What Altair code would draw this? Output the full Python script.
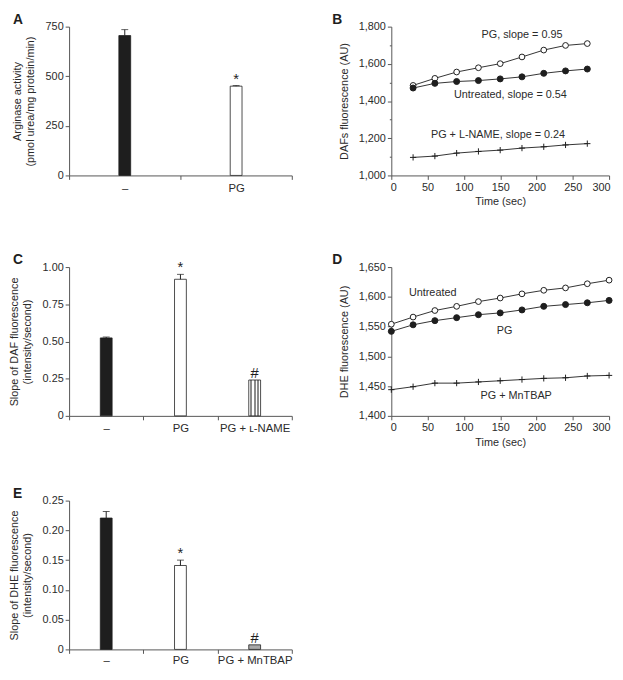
import altair as alt
import pandas as pd

FONT = "Liberation Sans"
TEXT = "#2b2b2b"
AXIS = "#555555"
INK = "#1e1e1e"

# ---------------- data ----------------
# Panel A
a_groups = ["–", "PG"]
a_values = [705, 450]
a_errors = [30, 3]
a_marks = ["", "*"]
a_fills = ["black", "white"]

# Panel B
b_time = [30, 60, 90, 120, 150, 180, 210, 240, 270]
b_pg = [1484, 1522, 1556, 1579, 1601, 1637, 1674, 1699, 1709]
b_untreated = [1470, 1495, 1505, 1510, 1519, 1530, 1549, 1562, 1572]
b_lname = [1097, 1104, 1120, 1129, 1136, 1147, 1154, 1164, 1171]
b_names = ["PG", "Untreated", "PG + L-NAME"]
b_styles = ["open", "filled", "cross"]
b_label_text = ["PG, slope = 0.95", "Untreated, slope = 0.54", "PG + L-NAME, slope = 0.24"]
b_label_x = [180, 164, 147]
b_label_y = [1756, 1433, 1217]

# Panel C
c_groups = ["–", "PG", "PG + ʟ-NAME"]
c_values = [0.524, 0.918, 0.241]
c_errors = [0.006, 0.033, 0.0]
c_marks = ["", "*", "#"]
c_fills = ["black", "white", "striped"]

# Panel D
d_time = [0, 30, 60, 90, 120, 150, 180, 210, 240, 270, 300]
d_untreated = [1554, 1566, 1577, 1584, 1592, 1598, 1605, 1611, 1615, 1622, 1628]
d_pg = [1542, 1553, 1560, 1565, 1570, 1573, 1578, 1584, 1587, 1590, 1594]
d_mntbap = [1444, 1449, 1455, 1455, 1457, 1459, 1461, 1463, 1464, 1467, 1468]
d_names = ["Untreated", "PG", "PG + MnTBAP"]
d_styles = ["open", "filled", "cross"]
d_label_text = ["Untreated", "PG", "PG + MnTBAP"]
d_label_x = [57, 156, 172]
d_label_y = [1606, 1543, 1433]

# Panel E
e_groups = ["–", "PG", "PG + MnTBAP"]
e_values = [0.2207, 0.141, 0.0077]
e_errors = [0.011, 0.009, 0.0]
e_marks = ["", "*", "#"]
e_fills = ["black", "white", "grey"]

FILL_COLORS = {"black": INK, "white": "#ffffff", "grey": "#a8a8a8"}
CROSS = "M-1,0H1M0,-1V1"
STYLE_DOMAIN = ["open", "filled", "cross"]
STYLE_SHAPE = ["circle", "circle", CROSS]
STYLE_FILL = ["#ffffff", INK, "#ffffff00"]
STYLE_SIZE = [34, 40, 49]


# ---------------- helpers ----------------
def stripes():
    stops = []
    n = 7
    for i in range(n):
        col = "#ffffff" if i % 2 == 0 else "#8c8c8c"
        stops.append(alt.GradientStop(offset=i / n, color=col))
        stops.append(alt.GradientStop(offset=(i + 1) / n, color=col))
    return alt.Gradient(gradient="linear", stops=stops, x1=0, x2=1, y1=0, y2=0)


def letter(s, dx=-57):
    return alt.TitleParams(s, anchor="start", frame="group", font=FONT, fontSize=14,
                           fontWeight="bold", color=INK, dx=dx, offset=-6)


W1, W2, H = 226, 221, 151


def bar_panel(groups, values, errors, marks, fills, ymax, yvals, ytitle, fmt_expr,
              title, star_dy, label_pad=3):
    df = pd.DataFrame({"group": groups, "value": values, "err": errors,
                       "mark": marks, "style": fills})
    df["top"] = df["value"] + df["err"]
    df["color"] = [FILL_COLORS.get(f, "#ffffff") for f in fills]
    x = alt.X("group:N", sort=groups, title=None,
              scale=alt.Scale(paddingInner=0, paddingOuter=0),
              axis=alt.Axis(tickBand="extent", labelAngle=0, tickSize=4,
                            labelPadding=label_pad, labelFontSize=11.5,
                            labelOverlap=False))
    y = alt.Y("value:Q", title=ytitle,
              scale=alt.Scale(domain=[0, ymax], nice=False, zero=True),
              axis=alt.Axis(values=yvals, tickCount=50, labelExpr=fmt_expr, tickSize=4,
                            titlePadding=10, labelOverlap=False))
    base = alt.Chart(df)
    bars = base.transform_filter("datum.style != 'striped'").mark_bar(
        size=12, stroke=INK, strokeWidth=0.8
    ).encode(x=x, y=y, fill=alt.Fill("color:N", scale=None))
    layers = [bars]
    if "striped" in fills:
        sbar = base.transform_filter("datum.style == 'striped'").mark_bar(
            size=12, stroke=INK, strokeWidth=0.8, fill=stripes()
        ).encode(x=x, y=y)
        layers.append(sbar)
    errdf = base.transform_filter("datum.err > 0")
    rule = errdf.mark_rule(color=INK, strokeWidth=1).encode(
        x=x, y="value:Q", y2="top:Q")
    cap = errdf.mark_tick(color=INK, thickness=1, size=7).encode(x=x, y="top:Q")
    txt = base.transform_filter("datum.mark != ''").mark_text(
        font=FONT, fontSize=15, color=INK, baseline="alphabetic", dy=star_dy
    ).encode(x=x, y="top:Q", text="mark:N")
    layers += [rule, cap, txt]
    return alt.layer(*layers).properties(width=W1, height=H, title=letter(title))


def line_panel(time, series, names, styles, ydom, yvals, ylab_expr, ytick_expr, ytitle,
               lab_text, lab_x, lab_y, title):
    rows = []
    for name, sty, vals in zip(names, styles, series):
        for t, v in zip(time, vals):
            rows.append({"t": t, "v": v, "series": name, "style": sty})
    df = pd.DataFrame(rows)
    x = alt.X("t:Q", title="Time (sec)",
              scale=alt.Scale(domain=[0, 300], nice=False),
              axis=alt.Axis(values=[0, 50, 100, 150, 200, 250, 300], tickCount=50,
                            tickSize=4, labelPadding=2, titlePadding=4,
                            labelOverlap=False, labelFlush=True, labelFlushOffset=1))
    yaxis = dict(values=yvals, tickCount=50, labelExpr=ylab_expr, titlePadding=9,
                 labelOverlap=False, labelFlush=False)
    if ytick_expr is not None:
        yaxis["tickSize"] = {"expr": ytick_expr}
    else:
        yaxis["tickSize"] = 4
    y = alt.Y("v:Q", title=ytitle, scale=alt.Scale(domain=ydom, nice=False, zero=False),
              axis=alt.Axis(**yaxis))
    base = alt.Chart(df)
    lines = base.mark_line(color="#333333", strokeWidth=1).encode(
        x=x, y=y, detail="series:N")
    pts = base.mark_point(filled=True, stroke=INK, strokeWidth=1, opacity=1).encode(
        x=x, y=y,
        shape=alt.Shape("style:N", scale=alt.Scale(domain=STYLE_DOMAIN, range=STYLE_SHAPE),
                        legend=None),
        fill=alt.Fill("style:N", scale=alt.Scale(domain=STYLE_DOMAIN, range=STYLE_FILL),
                      legend=None),
        size=alt.Size("style:N", scale=alt.Scale(domain=STYLE_DOMAIN, range=STYLE_SIZE),
                      legend=None),
    )
    ldf = pd.DataFrame({"text": lab_text, "x": lab_x, "y": lab_y})
    labels = alt.Chart(ldf).mark_text(font=FONT, fontSize=11, color=TEXT,
                                      baseline="middle").encode(
        x=alt.X("x:Q", scale=alt.Scale(domain=[0, 300], nice=False)),
        y=alt.Y("y:Q", scale=alt.Scale(domain=ydom, nice=False, zero=False)),
        text="text:N")
    return alt.layer(lines, pts, labels).properties(width=W2, height=H,
                                                    title=letter(title, dx=-60))


A = bar_panel(a_groups, a_values, a_errors, a_marks, a_fills, 750, [0, 250, 500, 750],
              ["Arginase activity", "(pmol urea/mg protein/min)"],
              "format(datum.value, 'd')", "A", -2)

B = line_panel(b_time, [b_pg, b_untreated, b_lname], b_names, b_styles,
               [1000, 1800], list(range(1000, 1801, 100)),
               "datum.value % 200 === 0 ? format(datum.value, ',') : ''",
               "datum.value % 200 === 0 ? 4 : 2",
               "DAFs fluorescence (AU)", b_label_text, b_label_x, b_label_y, "B")

C = bar_panel(c_groups, c_values, c_errors, c_marks, c_fills, 1.0,
              [0, 0.25, 0.5, 0.75, 1.0],
              ["Slope of DAF fluorescence", "(intensity/second)"],
              "datum.value == 0 ? '0' : format(datum.value, '.2f')", "C", -2)

D = line_panel(d_time, [d_untreated, d_pg, d_mntbap], d_names, d_styles,
               [1400, 1650], [1400, 1450, 1500, 1550, 1600, 1650],
               "format(datum.value, ',')", None,
               "DHE fluorescence (AU)", d_label_text, d_label_x, d_label_y, "D")

E = bar_panel(e_groups, e_values, e_errors, e_marks, e_fills, 0.25,
              [0, 0.05, 0.10, 0.15, 0.20, 0.25],
              ["Slope of DHE fluorescence", "(intensity/second)"],
              "datum.value == 0 ? '0' : format(datum.value, '.2f')", "E", -2,
              label_pad=1)

top = alt.concat(A, B, C, D, columns=2, spacing={"row": 93, "column": 101},
                 bounds="flush")

chart = alt.vconcat(top, E, spacing=40).properties(
    padding={"left": 0, "top": 0, "right": 0, "bottom": 0},
    background="white",
).resolve_scale(
    shape="independent", fill="independent", size="independent"
).configure_view(stroke=None).configure_axis(
    grid=False,
    domainColor=AXIS, tickColor=AXIS, domainWidth=1, tickWidth=1,
    labelFont=FONT, labelFontSize=11, labelColor=TEXT,
    titleFont=FONT, titleFontSize=11, titleFontWeight="normal", titleColor=TEXT,
    titleLineHeight=13,
)

chart.save("out.html", embed_options={"renderer": "svg", "actions": False})
